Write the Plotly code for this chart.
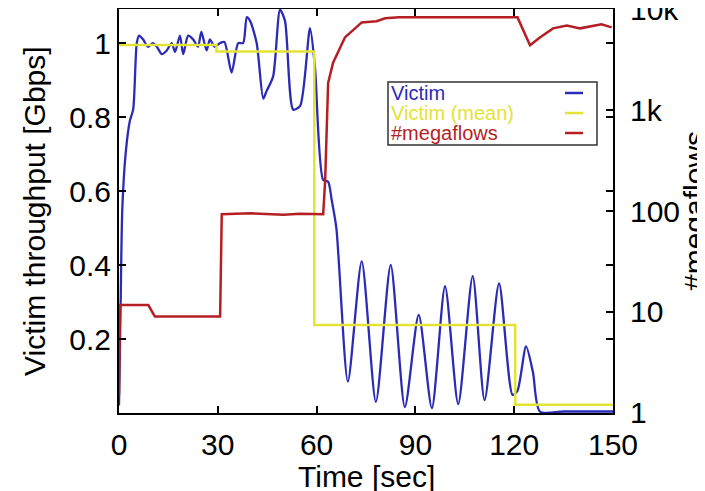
import plotly.graph_objects as go

# ---- data ----
victim_t = [0, 0.5, 1, 2, 3.3, 4.3, 5.4, 6.1, 7.3, 8.8, 10.3, 11.5, 13, 14.5, 16, 17, 18.5, 19.5,
            21, 22.5, 24, 25, 26.6, 27.6, 29, 30.7, 32, 34.2, 36.2, 37.7, 38.8, 39.8, 41.8, 43.8,
            44.8, 46.8, 48.9, 50.4, 52.9, 55, 58, 59.5, 62, 63.5, 64.6, 66, 69.5, 73.7, 78, 82.5,
            86.8, 91, 95, 99, 103, 107.4, 111, 115.4, 119.5, 121, 123.6, 125.7, 127.8, 135, 150]
victim_y = [0.02, 0.3, 0.55, 0.7, 0.79, 0.82, 1.0, 1.02, 1.01, 0.99, 1.0, 0.99, 0.97, 0.98, 1.0,
            0.976, 1.02, 0.97, 1.02, 1.01, 0.99, 1.03, 0.98, 1.01, 0.99, 1.0, 1.003, 0.92, 1.0,
            1.0, 1.07, 1.06, 1.0, 0.85, 0.87, 0.91, 1.09, 1.06, 0.82, 0.83, 1.04, 0.935, 0.63,
            0.625, 0.575, 0.50, 0.085, 0.41, 0.03, 0.40, 0.016, 0.265, 0.013, 0.343, 0.024, 0.37,
            0.035, 0.35, 0.049, 0.06, 0.18, 0.11, 0.004, 0.004, 0.004]

mean_t = [0, 29.6, 59.3, 120.3, 150]
mean_y = [0.995, 0.977, 0.238, 0.022, 0.022]

mega_t = [0, 0.3, 8.9, 10.9, 30.7, 31.2, 40, 45, 50, 55, 62, 62.6, 63.5, 65, 68.6, 71, 73.7,
          78.2, 80.8, 85, 100, 121, 124.8, 127.8, 131.8, 136, 140, 143, 146.5, 149.6]
mega_v = [1.5, 11.7, 11.7, 9.0, 9.0, 93, 95, 93, 92, 94, 93, 200, 1860, 2950, 5250, 6170, 7400,
          7600, 8130, 8300, 8300, 8300, 4400, 5250, 6460, 6900, 6460, 6700, 7080, 6600]

x_ticks = [0, 30, 60, 90, 120, 150]
y_ticks = [0.2, 0.4, 0.6, 0.8, 1.0]
y_ticktext = ["0.2", "0.4", "0.6", "0.8", "1"]
y2_ticks = [1, 10, 100, 1000, 10000]
y2_ticktext = ["1", "10", "100", "1k", "10k"]

series_names = ["Victim", "Victim (mean)", "#megaflows"]
colors = ["#2b2bb5", "#e3e336", "#b51f24"]

FONT = "Liberation Sans, Arial, Helvetica, sans-serif"

fig = go.Figure()
fig.add_trace(go.Scatter(x=victim_t, y=victim_y, mode="lines", name=series_names[0],
                         line=dict(color=colors[0], width=2.3, shape="spline", smoothing=0.7)))
fig.add_trace(go.Scatter(x=mean_t, y=mean_y, mode="lines", name=series_names[1],
                         line=dict(color=colors[1], width=2.5, shape="hv")))
fig.add_trace(go.Scatter(x=mega_t, y=mega_v, mode="lines", name=series_names[2], yaxis="y2",
                         line=dict(color=colors[2], width=2.5)))

# page has an 8px body margin: figure is drawn from (8, 8)
OFF = 8
W, H = 705 - OFF, 491 - OFF
PL, PR, PT, PB = 119, 613, 9, 413          # plot area in page pixels
L, T = PL - OFF, PT - OFF
R, B = W - (PR - OFF), H - (PB - OFF)
pw, ph = PR - PL, PB - PT

def px(x):
    return (x - PL) / pw

def py(y):
    return (PB - y) / ph

fig.update_layout(
    width=W, height=H,
    margin=dict(l=L, r=R, t=T, b=B, pad=0, autoexpand=False),
    paper_bgcolor="white", plot_bgcolor="white",
    showlegend=False,
    font=dict(family=FONT, size=30, color="black"),
    xaxis=dict(range=[0, 150], tickvals=x_ticks, ticks="inside", ticklen=7, tickwidth=1.5,
               tickcolor="black", mirror="ticks", showline=True, linewidth=2, linecolor="black",
               showgrid=False, zeroline=False, tickfont=dict(size=30), ticklabelstandoff=4,
               automargin=False),
    yaxis=dict(range=[0, 1.092], tickvals=y_ticks, ticktext=y_ticktext, ticks="inside",
               ticklen=7, tickwidth=1.5, tickcolor="black", mirror="ticks", showline=True,
               linewidth=2, linecolor="black", showgrid=False, zeroline=False,
               tickfont=dict(size=30), ticklabelstandoff=0, automargin=False),
    yaxis2=dict(type="log", range=[-0.002, 4.002], overlaying="y", side="right",
                tickvals=y2_ticks, ticktext=y2_ticktext, ticks="inside", ticklen=7,
                tickwidth=1.5, tickcolor="black", showline=False, showgrid=False,
                zeroline=False, tickfont=dict(size=30), ticklabelstandoff=16, automargin=False,
                ticklabeloverflow="allow"),
)

annotations = [
    dict(text="Time [sec]", xref="paper", yref="paper", x=0.5, y=py(477), xanchor="center",
         yanchor="middle", showarrow=False, font=dict(size=30)),
    dict(text="Victim throughput [Gbps]", xref="paper", yref="paper", x=px(34), y=0.5,
         xanchor="center", yanchor="middle", textangle=-90, showarrow=False, font=dict(size=30)),
    dict(text="#megaflows", xref="paper", yref="paper", x=px(694), y=0.5,
         xanchor="center", yanchor="middle", textangle=-90, showarrow=False, font=dict(size=30)),
]

# legend box (drawn manually: text on the left, line sample on the right)
shapes = [dict(type="rect", xref="paper", yref="paper", x0=px(388), x1=px(597), y0=py(145),
               y1=py(82), line=dict(color="#333333", width=1.5), fillcolor="rgba(0,0,0,0)")]
row_y = [93, 113, 133]
for name, c, ry in zip(series_names, colors, row_y):
    annotations.append(dict(text=name, xref="paper", yref="paper", x=px(389), y=py(ry),
                            xanchor="left", yanchor="middle", showarrow=False,
                            font=dict(size=20, color=c)))
    shapes.append(dict(type="line", xref="paper", yref="paper", x0=px(565), x1=px(583),
                       y0=py(ry), y1=py(ry), line=dict(color=c, width=2.5)))

fig.update_layout(annotations=annotations, shapes=shapes)
fig.write_html("out.html")
